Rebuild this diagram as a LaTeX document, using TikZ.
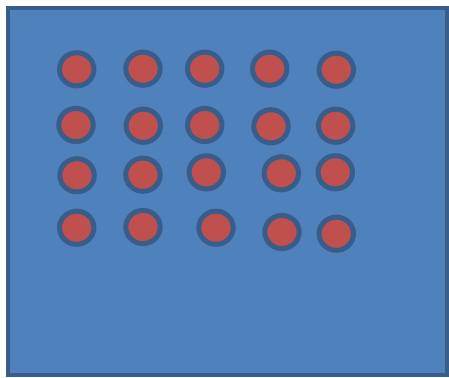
\documentclass[tikz,border=0pt]{standalone}
\definecolor{bgblue}{HTML}{4F81BD}
\definecolor{edgeblue}{HTML}{385D8A}
\definecolor{dotred}{HTML}{C0504D}
\tikzset{
  board/.style={fill=bgblue, draw=edgeblue, line width=4pt},
  dot/.style={fill=dotred, draw=edgeblue, line width=5pt}
}
\begin{document}
\begin{tikzpicture}[x=1pt,y=-1pt]
\useasboundingbox (0,0) rectangle (449,377);
\draw[board] (7.5,8.5) rectangle (447,374.5);
\foreach \px/\py in {76.7/69.3, 143/68.7, 204.7/68.7, 269.7/68.7, 336.3/69.7,
                     76/125, 143.3/125.7, 204.7/125, 271/126.3, 335.7/125.7,
                     77/175.3, 143/174.7, 206.3/172.3, 281.3/173.3, 335.3/172.3,
                     76.7/227.7, 143/227, 216/227.7, 282/232, 336.3/233.7}
  \draw[dot] (\px,\py) ellipse [x radius=17.2, y radius=16.6];
\end{tikzpicture}
\end{document}
